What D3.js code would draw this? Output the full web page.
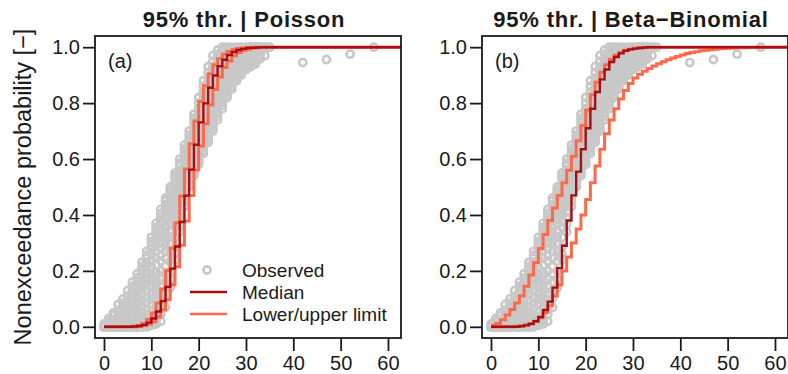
<!DOCTYPE html>
<html>
<head>
<meta charset="utf-8">
<script src="https://cdnjs.cloudflare.com/ajax/libs/d3/7.8.5/d3.min.js"></script>
<style>
  body { margin: 0; background: #fff; }
  svg text { font-family: "Liberation Sans", Arial, sans-serif; fill: #1a1a1a; }
</style>
</head>
<body>
<div id="chart"></div>
<script>
var xTicks = [0, 10, 20, 30, 40, 50, 60];
var yTicks = [0, 0.2, 0.4, 0.6, 0.8, 1.0];
var panelTitles = ["95% thr. | Poisson", "95% thr. | Beta\u2212Binomial"];
var panelTags = ["(a)", "(b)"];
var legendLabels = ["Observed", "Median", "Lower/upper limit"];

// observed empirical CDFs, index = count (0, 1, 2, ...), null = no observation
var obs1 = [0.01,0.03,0.05,0.08,0.10,0.13,0.16,0.19,0.23,0.27,0.32,0.37,0.42,0.46,0.50,0.55,0.60,0.65,0.70,0.76,0.82,0.88,0.93,0.97,0.99,1.00];
var obs2 = [0,0.01,0.025,0.045,0.07,0.095,0.13,0.16,0.20,0.245,0.29,0.34,0.39,0.435,0.48,0.53,0.575,0.62,0.67,0.73,0.78,0.84,0.89,0.93,0.96,0.98,0.99,1.0];
var obs3 = [0,0,0.01,0.025,0.045,0.07,0.10,0.13,0.17,0.215,0.265,0.315,0.365,0.41,0.455,0.505,0.55,0.60,0.65,0.70,0.755,0.81,0.86,0.895,0.925,0.95,0.97,0.985,0.99,1.0];
var obs4 = [0,0,0,0.01,0.025,0.045,0.07,0.10,0.135,0.17,0.215,0.27,0.32,0.38,0.43,0.485,0.53,0.575,0.62,0.67,0.72,0.77,0.82,0.87,0.90,0.93,0.95,0.965,0.975,0.985,0.99,1.0];
var obs5 = [0,0,0,0,0.01,0.02,0.04,0.065,0.095,0.13,0.17,0.22,0.28,0.34,0.40,0.46,0.51,0.555,0.60,0.645,0.69,0.74,0.79,0.835,0.875,0.905,0.93,0.95,0.965,0.978,0.99,1.0];
var obs6 = [0,0,0,0,0,0.01,0.015,0.03,0.05,0.085,0.12,0.17,0.235,0.30,0.37,0.43,0.49,0.535,0.58,0.625,0.67,0.71,0.755,0.80,0.84,0.88,0.905,0.93,0.946,0.96,0.975,0.988,1.0];
var obs7 = [0,0,0,0,0,0,0,0.01,0.02,0.045,0.08,0.12,0.17,0.245,0.32,0.395,0.46,0.52,0.56,0.60,0.645,0.69,0.73,0.77,0.81,0.845,0.88,0.905,0.925,0.943,0.958,0.972,1.0];
var obs8 = [0,0,0,0,0,0,0,0,0,0.01,0.03,0.07,0.12,0.19,0.27,0.355,0.43,0.495,0.54,0.58,0.625,0.665,0.705,0.745,0.79,0.825,0.86,0.885,0.905,0.925,0.942,0.953,0.965,1.0];
var obs9 = [0,0,0,0,0,0,0,0,0,0,0.01,0.03,0.07,0.13,0.20,0.285,0.39,0.465,0.52,0.56,0.60,0.64,0.68,0.72,0.765,0.805,0.84,0.87,0.89,0.91,0.925,0.94,0.952,0.962,1.0];
var obs10 = [0,0,0,0,0,0,0,0,0.01,0.01,0.01,0.01,0.02,0.07,0.14,0.24,0.34,0.43,0.50,0.54,0.58,0.62,0.66,0.70,0.74,0.78,0.82,0.85,0.88,0.90,0.92,0.93,0.94,
  null,null,null,null,null,null,null,null,null,0.945,null,null,null,null,0.956,null,null,null,null,0.975,null,null,null,null,1.0];
var obs11 = [0.005,0.02,0.04,0.06,0.085,0.11,0.145,0.175,0.215,0.255,0.305,0.355,0.405,0.45,0.49,0.54,0.585,0.635,0.685,0.745,0.80,0.86,0.91,0.95,0.975,0.99,1.0];
var obs12 = [0,0.005,0.015,0.035,0.055,0.08,0.115,0.145,0.185,0.23,0.275,0.325,0.375,0.42,0.465,0.515,0.56,0.61,0.66,0.715,0.765,0.825,0.875,0.915,0.945,0.965,0.98,0.99,1.0];
var obs13 = [0,0,0.005,0.018,0.035,0.058,0.085,0.115,0.15,0.19,0.24,0.29,0.34,0.395,0.44,0.495,0.54,0.59,0.635,0.685,0.74,0.79,0.84,0.88,0.91,0.94,0.96,0.975,0.985,0.993,1.0];
var obs14 = [0,0,0,0.005,0.015,0.03,0.055,0.08,0.115,0.15,0.19,0.245,0.30,0.36,0.415,0.47,0.52,0.565,0.61,0.655,0.705,0.755,0.805,0.85,0.888,0.918,0.94,0.957,0.969,0.979,0.986,1.0];
var obs15 = [0,0,0,0,0.005,0.015,0.028,0.048,0.072,0.105,0.145,0.195,0.255,0.32,0.385,0.445,0.50,0.545,0.59,0.635,0.68,0.725,0.77,0.818,0.858,0.892,0.918,0.94,0.955,0.966,0.978,0.99,1.0];
var obs16 = [0,0,0,0,0,0.005,0.01,0.02,0.035,0.065,0.10,0.145,0.20,0.27,0.345,0.41,0.475,0.528,0.57,0.612,0.658,0.70,0.742,0.785,0.825,0.862,0.892,0.918,0.936,0.95,0.965,0.978,1.0];
var obs17 = [0,0,0,0,0,0,0,0.005,0.01,0.028,0.055,0.095,0.145,0.215,0.295,0.375,0.445,0.508,0.55,0.59,0.635,0.678,0.718,0.758,0.80,0.835,0.87,0.895,0.915,0.934,0.948,0.962,0.975,1.0];
var obs18 = [0,0,0,0,0,0,0,0,0,0.005,0.02,0.05,0.095,0.16,0.235,0.32,0.41,0.48,0.53,0.57,0.612,0.652,0.692,0.732,0.778,0.815,0.85,0.878,0.898,0.918,0.934,0.947,0.96,0.972,1.0];
var obs19 = [0,0,0,0,0,0,0,0,0,0,0.005,0.02,0.045,0.10,0.17,0.262,0.365,0.448,0.51,0.55,0.59,0.63,0.67,0.71,0.752,0.792,0.83,0.86,0.885,0.905,0.922,0.935,0.946,0.958,0.97,1.0];
var observed = [obs1, obs2, obs3, obs4, obs5, obs6, obs7, obs8, obs9, obs10,
                obs11, obs12, obs13, obs14, obs15, obs16, obs17, obs18, obs19];

// fitted CDFs (index = count)
var poisMedian = [0,0,0,0,0,0,0.001,0.003,0.007,0.015,0.030,0.055,0.092,0.143,0.208,0.287,0.375,0.469,0.562,0.651,0.731,0.799,0.855,0.899,0.932,0.955,0.972,0.983,0.990,0.994,0.997,0.998,0.999,1];
var poisUpper = [0,0,0,0,0,0.001,0.002,0.005,0.012,0.026,0.049,0.085,0.135,0.201,0.281,0.372,0.468,0.564,0.655,0.736,0.806,0.862,0.905,0.937,0.959,0.975,0.985,0.991,0.995,0.997,0.999,1];
var poisLower = [0,0,0,0,0,0,0,0.001,0.004,0.009,0.018,0.035,0.061,0.098,0.150,0.215,0.292,0.378,0.470,0.561,0.647,0.726,0.793,0.849,0.893,0.927,0.951,0.969,0.981,0.988,0.993,0.996,0.998,0.999,1];

var bbMedian = [0,0,0,0,0,0,0.002,0.005,0.010,0.020,0.035,0.060,0.090,0.140,0.210,0.290,0.380,0.470,0.555,0.635,0.710,0.780,0.840,0.885,0.920,0.947,0.965,0.978,0.987,0.992,0.995,0.997,0.999,1];
var bbUpper = [0.005,0.012,0.025,0.042,0.062,0.085,0.110,0.145,0.185,0.230,0.280,0.330,0.380,0.425,0.470,0.515,0.560,0.610,0.665,0.720,0.775,0.830,0.875,0.910,0.937,0.957,0.971,0.981,0.988,0.993,0.996,0.998,0.999,1];
var bbLower = [0,0,0,0,0,0.002,0.004,0.007,0.012,0.020,0.032,0.050,0.075,0.110,0.150,0.200,0.250,0.300,0.350,0.400,0.455,0.515,0.575,0.635,0.690,0.740,0.780,0.815,0.845,0.870,0.890,0.903,0.914,0.924,0.933,0.941,0.948,0.955,0.961,0.967,0.972,0.977,0.981,0.984,0.987,0.989,0.991,0.993,0.994,0.995,0.996,0.997,0.998,0.998,0.999,0.999,1];

var grey = "#c8c8c8", darkRed = "#a50f15", orange = "#fb6a4a";

var svg = d3.select("#chart").append("svg")
    .attr("width", 788).attr("height", 374);

var boxW = 306, plotTop = 36, plotBottom = 338;

var y = d3.scaleLinear().domain([-0.04, 1.04]).range([plotBottom, plotTop]);

svg.append("text")
    .attr("transform", "translate(31," + ((plotTop + plotBottom) / 2) + ") rotate(-90)")
    .attr("text-anchor", "middle")
    .style("font-size", "23.5px")
    .text("Nonexceedance probability [\u2212]");

function drawPanel(idx, left, median, upper, lower) {
    var x = d3.scaleLinear().domain([-1.9, 62.75]).range([left, left + boxW]);

    var g = svg.append("g");

    svg.append("clipPath").attr("id", "clip" + idx)
        .append("rect").attr("x", left).attr("y", plotTop).attr("width", boxW).attr("height", plotBottom - plotTop);

    // observed points
    var pts = [];
    observed.forEach(function (s) {
        s.forEach(function (v, i) { if (v !== null) pts.push([i, v]); });
    });
    g.append("g").attr("clip-path", "url(#clip" + idx + ")")
        .selectAll("circle").data(pts).enter().append("circle")
        .attr("cx", function (d) { return x(d[0]); })
        .attr("cy", function (d) { return y(d[1]); })
        .attr("r", 3.6)
        .attr("fill", "none")
        .attr("stroke", grey)
        .attr("stroke-width", 2.6);

    var line = d3.line()
        .x(function (d) { return x(d[0]); })
        .y(function (d) { return y(d[1]); })
        .curve(d3.curveStepAfter);

    function stepData(arr) {
        var d = arr.map(function (v, i) { return [i, v]; });
        d.push([x.domain()[1], arr[arr.length - 1]]);   // carry last value to the edge
        return d;
    }

    var lines = g.append("g").attr("clip-path", "url(#clip" + idx + ")");
    [upper, lower].forEach(function (arr) {
        lines.append("path").attr("d", line(stepData(arr)))
            .attr("fill", "none").attr("stroke", orange).attr("stroke-width", 3);
    });
    lines.append("path").attr("d", line(stepData(median)))
        .attr("fill", "none").attr("stroke", darkRed).attr("stroke-width", 2.4);

    // axes
    var ya = g.append("g").attr("transform", "translate(" + left + ",0)")
        .call(d3.axisLeft(y).tickValues(yTicks).tickFormat(d3.format(".1f")).tickSize(12).tickPadding(3));
    var xa = g.append("g").attr("transform", "translate(0," + plotBottom + ")")
        .call(d3.axisBottom(x).tickValues(xTicks).tickSize(13).tickPadding(5));
    [ya, xa].forEach(function (a) {
        a.select(".domain").remove();
        a.selectAll("line").attr("stroke", "#1a1a1a").attr("stroke-width", 1.8);
        a.selectAll("text").style("font-size", "20px").attr("fill", "#1a1a1a");
    });

    g.append("rect").attr("x", left).attr("y", plotTop).attr("width", boxW).attr("height", plotBottom - plotTop)
        .attr("fill", "none").attr("stroke", "#1a1a1a").attr("stroke-width", 1.8);

    g.append("text").attr("x", left + boxW / 2 - 4).attr("y", 27)
        .attr("text-anchor", "middle")
        .style("font-size", "22px").style("font-weight", "bold").style("letter-spacing", "0.8px")
        .text(panelTitles[idx]);

    g.append("text").attr("x", left + 13).attr("y", 68)
        .style("font-size", "20px")
        .text(panelTags[idx]);

    return x;
}

drawPanel(0, 95, poisMedian, poisUpper, poisLower);
drawPanel(1, 482, bbMedian, bbUpper, bbLower);

// legend (panel a)
var leg = svg.append("g").style("font-size", "19px");
leg.append("circle").attr("cx", 207).attr("cy", 270).attr("r", 3.6)
    .attr("fill", "none").attr("stroke", grey).attr("stroke-width", 2.6);
leg.append("line").attr("x1", 190).attr("x2", 227).attr("y1", 292).attr("y2", 292)
    .attr("stroke", darkRed).attr("stroke-width", 2.4);
leg.append("line").attr("x1", 190).attr("x2", 227).attr("y1", 314).attr("y2", 314)
    .attr("stroke", orange).attr("stroke-width", 2.4);
legendLabels.forEach(function (t, i) {
    leg.append("text").attr("x", 242).attr("y", 277 + i * 22).text(t);
});
</script>
</body>
</html>
